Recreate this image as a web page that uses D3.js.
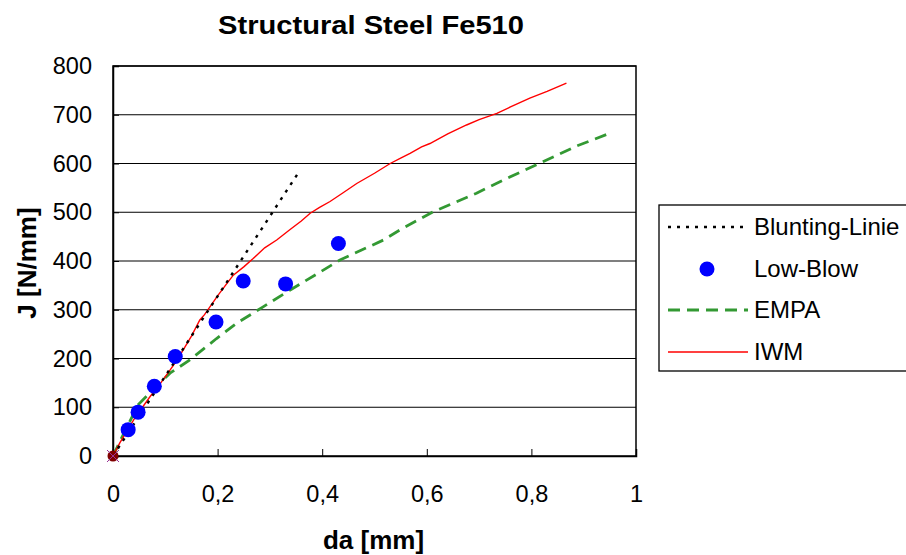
<!DOCTYPE html>
<html><head><meta charset="utf-8">
<script src="https://cdn.jsdelivr.net/npm/d3@7"></script>
<style>body{margin:0;background:#fff;} svg{display:block;font-family:"Liberation Sans",Arial,sans-serif;}</style>
</head><body>
<svg id="chart" width="906" height="555"></svg>
<script>
const title = "Structural Steel Fe510";
const xLabel = "da [mm]";
const yLabel = "J [N/mm]";
const xTicks = [0, 0.2, 0.4, 0.6, 0.8, 1];
const yTicks = [0, 100, 200, 300, 400, 500, 600, 700, 800];
const seriesNames = ["Blunting-Linie", "Low-Blow", "EMPA", "IWM"];

const bluntingDa = [0, 0.352];
const bluntingJ = [0, 577];

const lowBlowDa = [0.029, 0.048, 0.079, 0.119, 0.197, 0.249, 0.330, 0.431];
const lowBlowJ = [54, 90, 143, 204, 275, 359, 353, 436];

const empaDa = [0, 0.02, 0.048, 0.08, 0.109, 0.147, 0.198, 0.236, 0.287, 0.338, 0.434, 0.517, 0.549, 0.612, 0.695, 0.746, 0.823, 0.887, 0.95];
const empaJ = [0, 45, 105, 140, 170, 197, 241, 272, 306, 340, 402, 443, 464, 501, 539, 566, 604, 636, 662];

const iwmDa = [0, 0.013, 0.025, 0.04, 0.055, 0.071, 0.09, 0.109, 0.12, 0.134, 0.15, 0.166, 0.175, 0.201, 0.215, 0.23, 0.25, 0.268, 0.29, 0.313, 0.338, 0.36, 0.377, 0.395, 0.415, 0.44, 0.466, 0.5, 0.53, 0.55, 0.568, 0.59, 0.606, 0.64, 0.676, 0.7, 0.734, 0.76, 0.797, 0.83, 0.867];
const iwmJ = [0, 27, 48, 75, 98, 122, 148, 176, 193, 217, 246, 279, 290, 330, 350, 371, 388, 405, 427, 443, 464, 482, 498, 510, 522, 540, 559, 580, 600, 611, 621, 634, 641, 661, 679, 690, 703, 716, 734, 748, 765];

const svg = d3.select("#chart");
const L = 113, R = 636, T = 66, B = 456;
const x = d3.scaleLinear().domain([0, 1]).range([L, R]);
const y = d3.scaleLinear().domain([0, 800]).range([B, T]);
const fmt = d => d === 0 ? "0" : (d === 1 ? "1" : String(d).replace(".", ","));
const FONT = "Liberation Sans, Arial, sans-serif";

// gridlines
svg.append("g").selectAll("line").data(yTicks.filter(d => d > 0)).join("line")
  .attr("x1", L).attr("x2", R).attr("y1", d => y(d)).attr("y2", d => y(d))
  .attr("stroke", "#000").attr("stroke-width", 1.2);

// plot border
svg.append("rect").attr("x", L).attr("y", T).attr("width", R - L).attr("height", B - T)
  .attr("fill", "none").attr("stroke", "#000").attr("stroke-width", 1.5);

// axes
const xAxis = d3.axisBottom(x).tickValues(xTicks).tickFormat(fmt).tickSize(-7).tickPadding(29);
const gx = svg.append("g").attr("transform", `translate(0,${B})`).call(xAxis);
gx.select(".domain").attr("stroke-width", 1.5);
gx.selectAll("text").attr("font-size", 23.5).attr("fill", "#000").attr("font-family", FONT);

const yAxis = d3.axisLeft(y).tickValues(yTicks).tickFormat(d => d).tickSize(-6).tickPadding(21);
const gy = svg.append("g").attr("transform", `translate(${L},0)`).call(yAxis);
gy.select(".domain").attr("stroke-width", 1.5);
gy.selectAll("text").attr("font-size", 23.5).attr("fill", "#000").attr("font-family", FONT);

// lines
const line = d3.line().x(d => x(d[0])).y(d => y(d[1]));
const zip = (a, b) => a.map((v, i) => [v, b[i]]);

svg.append("path").datum(zip(empaDa, empaJ)).attr("d", line)
  .attr("fill", "none").attr("stroke", "#339933").attr("stroke-width", 2.8).attr("stroke-dasharray", "12,7");
svg.append("path").datum(zip(iwmDa, iwmJ)).attr("d", line)
  .attr("fill", "none").attr("stroke", "#ff0000").attr("stroke-width", 1.4);
svg.append("path").datum(zip(bluntingDa, bluntingJ)).attr("d", line)
  .attr("fill", "none").attr("stroke", "#000").attr("stroke-width", 2.4).attr("stroke-dasharray", "3,6");

// low-blow points
svg.append("g").selectAll("circle").data(zip(lowBlowDa, lowBlowJ)).join("circle")
  .attr("cx", d => x(d[0])).attr("cy", d => y(d[1])).attr("r", 7.5).attr("fill", "#0000ff");

// origin marker
svg.append("circle").attr("cx", x(0)).attr("cy", y(0)).attr("r", 5.5).attr("fill", "#800000");
const star = svg.append("g").attr("stroke", "#993399").attr("stroke-width", 1);
[[-6,-6,6,6],[-6,6,6,-6]].forEach(s => star.append("line")
  .attr("x1", x(0)+s[0]).attr("y1", y(0)+s[1]).attr("x2", x(0)+s[2]).attr("y2", y(0)+s[3]));

// title & axis labels
svg.append("text").attr("x", 218).attr("y", 34)
  .attr("font-size", 26).attr("font-weight", "bold")
  .attr("textLength", 306).attr("lengthAdjust", "spacingAndGlyphs").text(title);
svg.append("text").attr("x", 373.5).attr("y", 549).attr("text-anchor", "middle")
  .attr("font-size", 26).attr("font-weight", "bold").text(xLabel);
svg.append("text").attr("transform", "translate(36,263) rotate(-90)").attr("text-anchor", "middle")
  .attr("font-size", 26).attr("font-weight", "bold").text(yLabel);

// legend
const lg = svg.append("g");
lg.append("rect").attr("x", 659).attr("y", 205).attr("width", 260).attr("height", 166)
  .attr("fill", "#fff").attr("stroke", "#000").attr("stroke-width", 1.3);
const ly = [227, 269, 310, 352];
const styles = [
  {stroke: "#000", w: 2.4, dash: "3,6"},
  null,
  {stroke: "#339933", w: 2.8, dash: "12,7"},
  {stroke: "#ff0000", w: 1.4, dash: null}
];
seriesNames.forEach((name, i) => {
  const s = styles[i];
  if (s) {
    lg.append("line").attr("x1", 668).attr("x2", 748).attr("y1", ly[i]).attr("y2", ly[i])
      .attr("stroke", s.stroke).attr("stroke-width", s.w).attr("stroke-dasharray", s.dash);
  } else {
    lg.append("circle").attr("cx", 707).attr("cy", ly[i]).attr("r", 7.5).attr("fill", "#0000ff");
  }
  lg.append("text").attr("x", 754).attr("y", ly[i] + 8).attr("font-size", 24).text(name);
});
</script>
</body></html>
